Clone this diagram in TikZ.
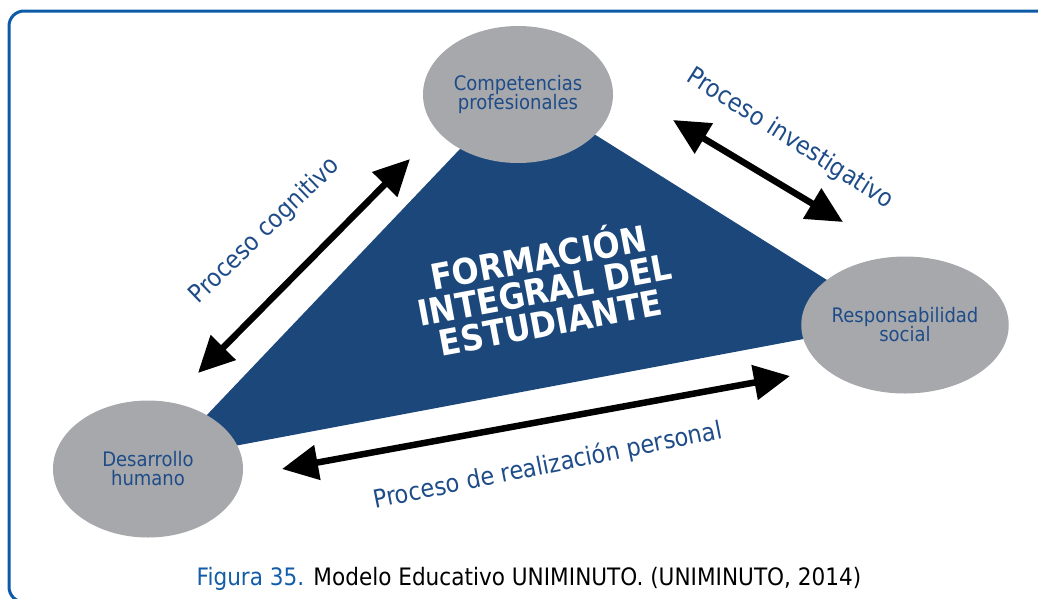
\documentclass[tikz,border=0pt]{standalone}
\usepackage{fontspec}
\setmainfont{DejaVu Sans}[FakeStretch=0.9]
\usetikzlibrary{arrows.meta,shapes.geometric}
\definecolor{triblue}{RGB}{27,71,123}
\definecolor{ellgray}{RGB}{167,168,172}
\definecolor{txtblue}{RGB}{30,76,136}
\definecolor{framecol}{RGB}{13,90,167}
\definecolor{capblue}{RGB}{20,92,168}
\begin{document}
\begin{tikzpicture}[x=1pt,y=-1pt,
  ell/.style={ellipse,fill=ellgray,minimum width=190pt,minimum height=137pt,inner sep=0pt,
    align=center,text=txtblue,font=\fontsize{20}{20}\selectfont},
  dblarrow/.style={line width=6.5pt,{Triangle[length=36pt,width=34pt]}-{Triangle[length=36pt,width=34pt]}},
  lbl/.style={text=txtblue,font=\fontsize{25}{25}\selectfont,inner sep=0pt},
  frameline/.style={draw=framecol,line width=3pt,rounded corners=15pt}]
\useasboundingbox (0,0) rectangle (1038,598);
\clip (0,0) rectangle (1038,598);
% frame
\draw[frameline] (1060,602) -- (9,602) -- (9,11) -- (1060,11);
% triangle
\fill[triblue] (519,87) -- (894,322) -- (165,459) -- cycle;
% ellipses
\node[ell] (comp) at (518,94.5) {Competencias\\[-1pt]profesionales};
\node[ell] (resp) at (905,325) {Responsabilidad\\[-1pt]social};
\node[ell] (desa) at (148,469) {Desarrollo\\[-1pt]humano};
% central text
\node[rotate=10.6,align=center,text=white,font=\bfseries\fontsize{35.5}{33}\selectfont] (central) at (544,287) {FORMACIÓN\\INTEGRAL DEL\\ESTUDIANTE};
% arrows
\coordinate (c1) at (198,373);
\coordinate (c2) at (410,159);
\coordinate (i1) at (673,120);
\coordinate (i2) at (843,222);
\coordinate (r1) at (282,469);
\coordinate (r2) at (790,376);
\draw[dblarrow] (c1) -- (c2);
\draw[dblarrow] (i1) -- (i2);
\draw[dblarrow] (r1) -- (r2);
% labels
\node[lbl,rotate=44] (lcog) at (265,231) {Proceso cognitivo};
\node[lbl,rotate=-32.5] (linv) at (790,139) {Proceso investigativo};
\node[lbl,rotate=11.4] (lreal) at (548,466) {Proceso de realización personal};
% caption
\node[font=\fontsize{24}{24}\selectfont,anchor=base] (cap) at (529,585) {\textcolor{capblue}{Figura 35.} Modelo Educativo UNIMINUTO. (UNIMINUTO, 2014)};
\end{tikzpicture}
\end{document}
